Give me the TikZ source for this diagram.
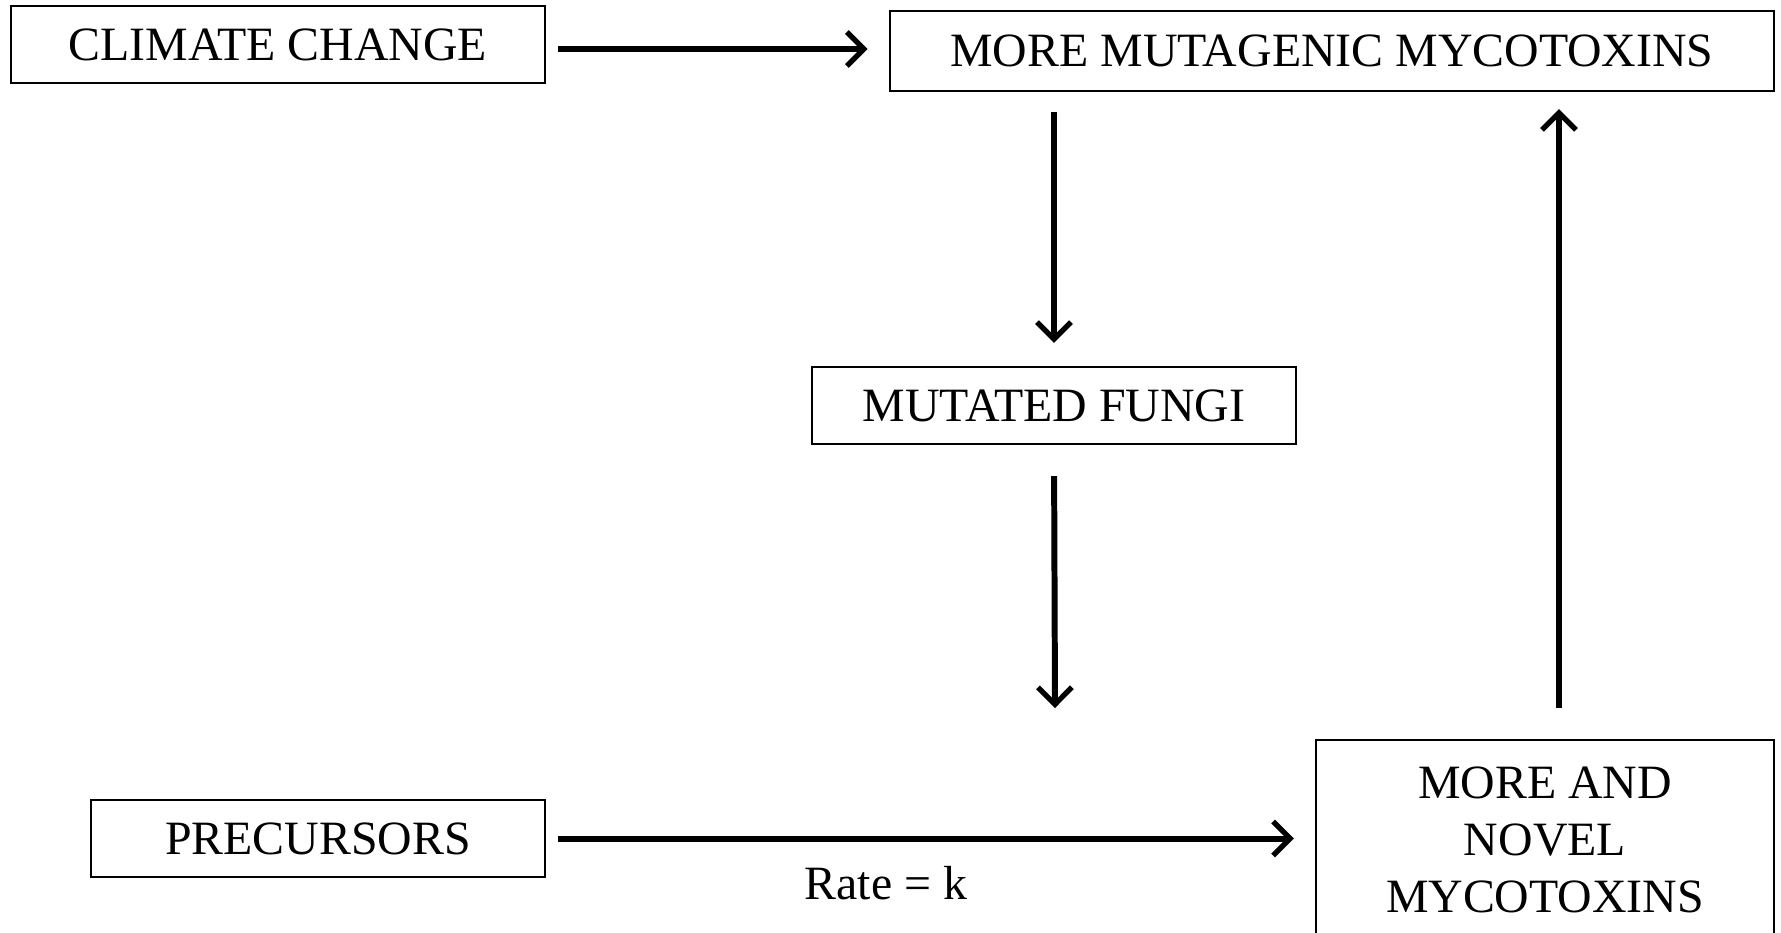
\documentclass[tikz,border=0pt]{standalone}
\usepackage{fontspec}
\setmainfont{Liberation Serif}
\usetikzlibrary{arrows.meta}

\tikzset{
  box/.style={draw,line width=0.6pt,inner sep=0pt,align=center,
    font=\fontsize{13.6}{16.2}\selectfont},
  arr/.style={line width=1.7pt,-{Straight Barb[length=1.7mm,width=3.4mm,line width=1.5pt]}}
}

\begin{document}
\begin{tikzpicture}[x=0.01cm,y=-0.01cm]
\useasboundingbox (0,0) rectangle (1781,932);
\clip (0,0) rectangle (1781,932);

\node[box,minimum width=5.34cm,minimum height=0.77cm] (climate) at (278,44.5) {CLIMATE CHANGE};
\node[box,minimum width=8.84cm,minimum height=0.80cm] (mutagenic) at (1332,51) {MORE MUTAGENIC MYCOTOXINS};
\node[box,minimum width=4.84cm,minimum height=0.77cm] (fungi) at (1054,405.5) {MUTATED FUNGI};
\node[box,minimum width=4.54cm,minimum height=0.77cm] (precursors) at (318,838.5) {PRECURSORS};
\node[box,minimum width=4.58cm,minimum height=2.00cm] (novel) at (1545,840) {MORE AND\\NOVEL\\MYCOTOXINS};
\node[font=\fontsize{13.6}{16.2}\selectfont] (rate) at (886,883) {Rate = k};
\coordinate (drop) at (1055,708);

\draw[arr,shorten <=0.12cm,shorten >=0.21cm] ([yshift=-0.045cm]climate.east) -- ([yshift=-0.045cm]climate.east -| mutagenic.west);
\draw[arr,shorten <=0.20cm,shorten >=0.23cm] (mutagenic.south -| fungi.north) -- (fungi.north);
\draw[arr,shorten <=0.31cm] (fungi.south) -- (drop);
\draw[arr,shorten <=0.31cm,shorten >=0.17cm] ([xshift=0.14cm]novel.north) -- ([xshift=0.14cm]novel.north |- mutagenic.south);
\draw[arr,shorten <=0.12cm,shorten >=0.21cm] (precursors.east) -- (precursors.east -| novel.west);

\end{tikzpicture}
\end{document}
